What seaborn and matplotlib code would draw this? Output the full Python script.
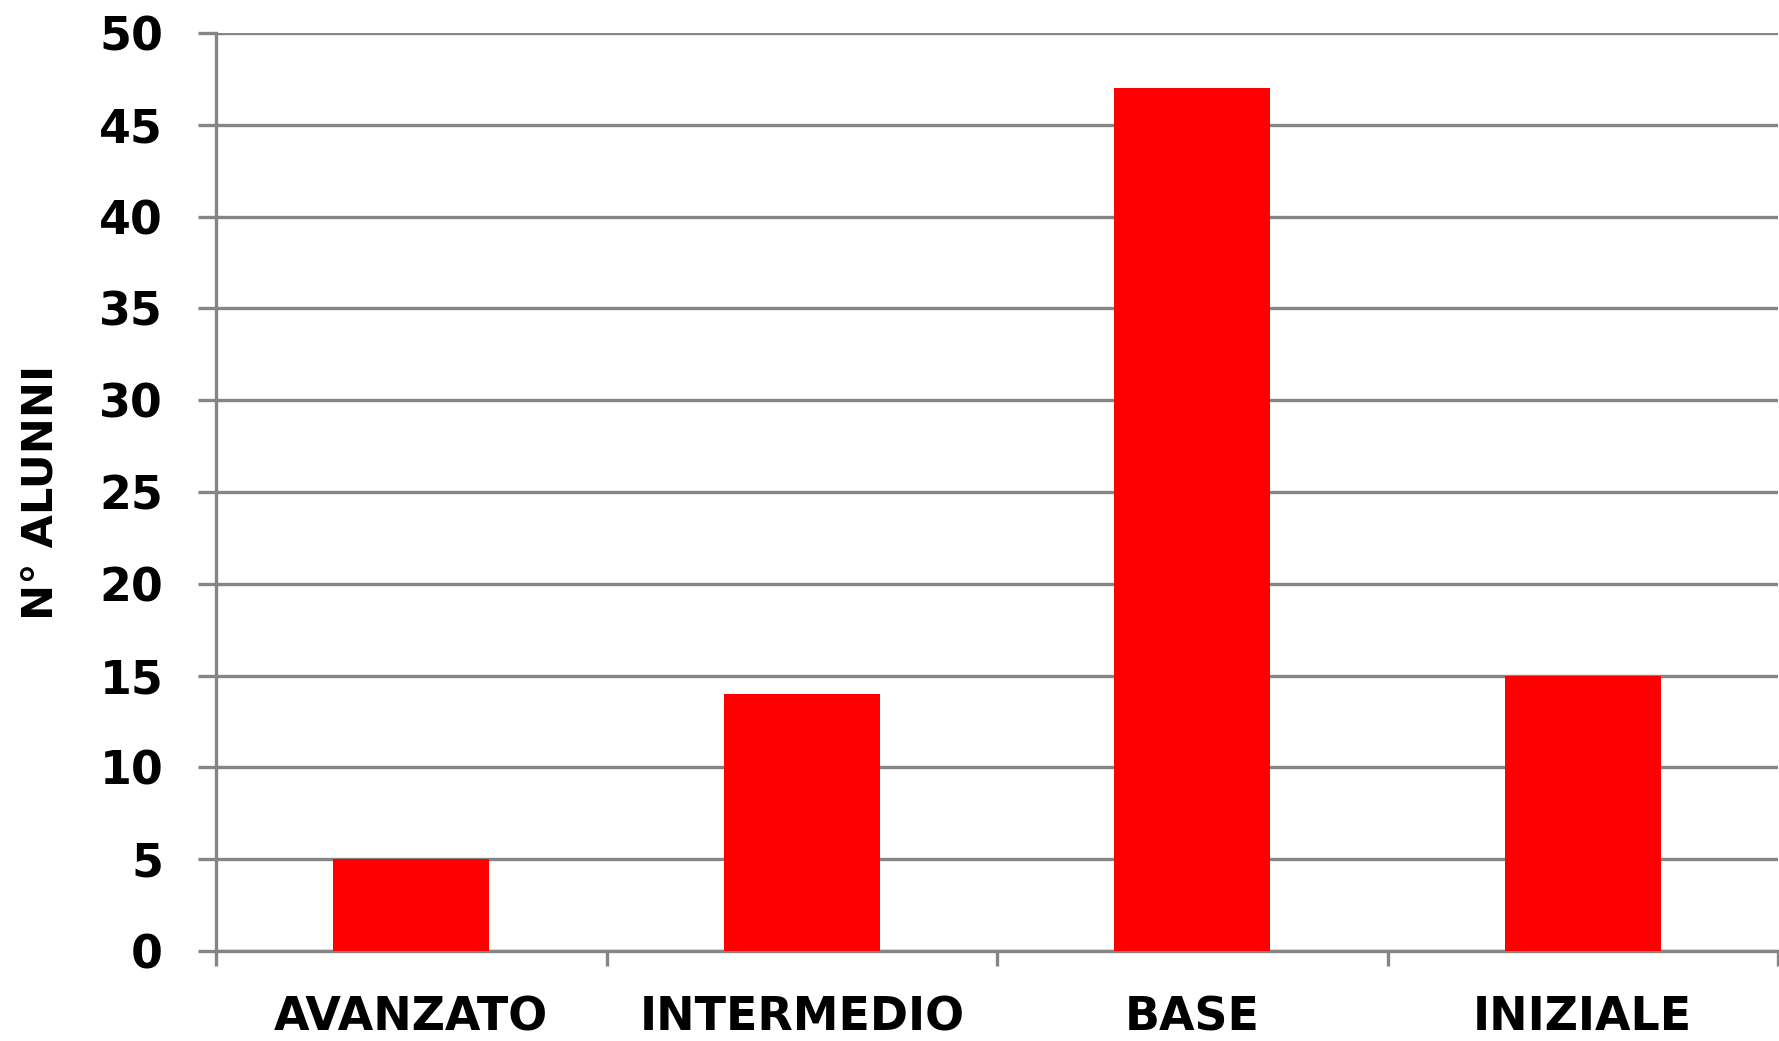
import matplotlib
matplotlib.use("Agg")
import matplotlib.pyplot as plt
import seaborn as sns
import pandas as pd

categories = ["AVANZATO", "INTERMEDIO", "BASE", "INIZIALE"]
values = [5, 14, 47, 15]
y_ticks = [0, 5, 10, 15, 20, 25, 30, 35, 40, 45, 50]
y_label = "N° ALUNNI"

df = pd.DataFrame({"cat": categories, "val": values})

sns.set_style("white")
plt.rcParams['font.family'] = ['DejaVu Sans']
plt.rcParams['text.color'] = 'black'
plt.rcParams['xtick.labelcolor'] = 'black'
plt.rcParams['ytick.labelcolor'] = 'black'
plt.rcParams['axes.labelcolor'] = 'black'

W, H = 1779, 1041
fig = plt.figure(figsize=(W / 100, H / 100), dpi=100)
left, right, top, bottom = 216, 1778, 33, 951
ax = fig.add_axes([left / W, 1 - bottom / H, (right - left) / W, (bottom - top) / H])

grid_c = "#858585"
sns.barplot(data=df, x="cat", y="val", color="#FF0000", saturation=1, width=0.4,
            ax=ax, zorder=3, edgecolor="none")

ax.set_ylim(0, 50)
ax.set_xlim(-0.5, len(categories) - 0.5)
ax.set_yticks(y_ticks)
ax.yaxis.grid(True, color=grid_c, linewidth=2.4, zorder=0)
ax.set_axisbelow(True)

for s in ["top", "right"]:
    ax.spines[s].set_visible(False)
for s in ["left", "bottom"]:
    ax.spines[s].set_color(grid_c)
    ax.spines[s].set_linewidth(2.4)

ax.tick_params(axis="y", which="major", length=13, width=2.4, color=grid_c,
               pad=25, labelsize=33, labelcolor="black", direction="out", left=True)
for t in ax.get_yticklabels():
    t.set_fontweight("bold")

ax.set_xticks(range(len(categories)))
ax.set_xticklabels(categories, fontsize=33, fontweight="bold", color="black")
ax.set_xticks([i - 0.5 for i in range(len(categories) + 1)], minor=True)
ax.tick_params(axis="x", which="major", length=0, pad=32)
ax.tick_params(axis="x", which="minor", length=11, width=2.4, color=grid_c,
               direction="out", bottom=True)

ax.set_xlabel("")
ax.set_ylabel(y_label, fontsize=31, fontweight="bold", color="black")
ax.yaxis.set_label_coords((62 - left) / (right - left), 0.5)

fig.savefig("out.png", dpi=100, facecolor="white")
